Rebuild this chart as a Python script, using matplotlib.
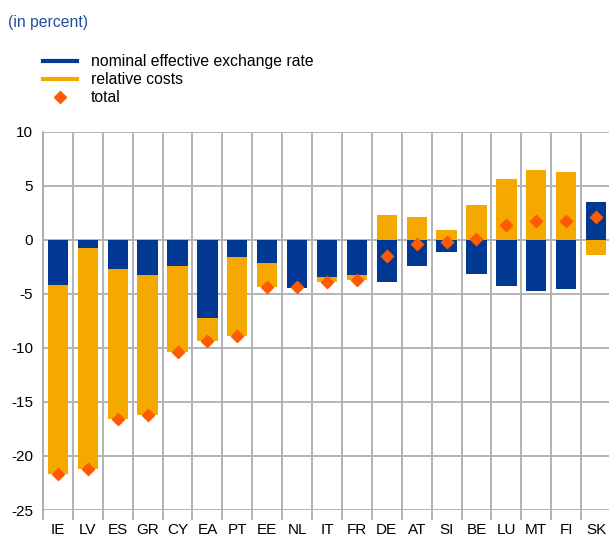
import numpy as np
import matplotlib
matplotlib.use('Agg')
import matplotlib.pyplot as plt
from matplotlib.lines import Line2D

plt.rcParams['font.family'] = ['Liberation Sans', 'DejaVu Sans']
plt.rcParams['axes.unicode_minus'] = False

# datos
paises = ['IE', 'LV', 'ES', 'GR', 'CY', 'EA', 'PT', 'EE', 'NL', 'IT',
          'FR', 'DE', 'AT', 'SI', 'BE', 'LU', 'MT', 'FI', 'SK']
neer = [-4.2, -0.7, -2.7, -3.2, -2.45, -7.25, -1.6, -2.15, -4.45, -3.45,
        -3.25, -3.9, -2.4, -1.1, -3.15, -4.25, -4.7, -4.55, 3.5]
costos = [-17.5, -20.5, -13.9, -13.0, -7.95, -2.1, -7.3, -2.2, 0.1, -0.45,
          -0.45, 2.3, 2.1, 0.9, 3.2, 5.65, 6.45, 6.3, -1.4]
total = [-21.7, -21.2, -16.6, -16.2, -10.35, -9.35, -8.9, -4.35, -4.35, -3.9,
         -3.7, -1.5, -0.35, -0.15, 0.1, 1.4, 1.75, 1.75, 2.1]

azul = '#003894'
naranja = '#f5a800'
rojo = '#ff5a00'

neer = np.array(neer)
costos = np.array(costos)
x = np.arange(len(paises))

fig = plt.figure(figsize=(6.09, 5.38), dpi=100)
ax = fig.add_axes([43/609, 28/538, 568/609, 378/538])

# el naranja se apila sobre el azul si tienen el mismo signo
base = np.where(np.sign(costos) == np.sign(neer), neer, 0)
ax.bar(x, neer, width=0.68, color=azul, zorder=2)
ax.bar(x, costos, width=0.68, bottom=base, color=naranja, zorder=2)
ax.scatter(x, total, marker='D', s=38, color=rojo, zorder=3)

ax.set_xlim(-0.5, len(paises) - 0.5)
ax.set_ylim(-25, 10)
ax.set_yticks(np.arange(-25, 11, 5))
ax.set_xticks(x)
ax.set_xticklabels(paises)
ax.set_xticks(np.arange(-0.5, len(paises), 1), minor=True)

# rejilla gris
ax.grid(axis='y', color='#b3b3b3', linewidth=1.4, zorder=0)
ax.grid(axis='x', which='minor', color='#a6a6a6', linewidth=1.2, zorder=0)
ax.tick_params(axis='x', which='major', length=0, labelsize=11, pad=9)
ax.tick_params(axis='x', which='minor', length=7, color='#a6a6a6', width=1.2)
ax.tick_params(axis='y', length=0, labelsize=11, pad=7)
for s in ['top', 'right', 'bottom']:
    ax.spines[s].set_visible(False)
ax.spines['left'].set_color('#a6a6a6')
ax.spines['left'].set_linewidth(1.2)

fig.text(8/609, 1 - 22/538, '(in percent)', color='#1f4ea0', fontsize=11.3,
         va='center', ha='left')

handles = [Line2D([], [], color=azul, lw=3),
           Line2D([], [], color=naranja, lw=3),
           Line2D([], [], color=rojo, marker='D', ls='none', markersize=6)]
labels = ['nominal effective exchange rate', 'relative costs', 'total']
fig.legend(handles, labels, loc='upper left',
           bbox_to_anchor=(43/609, 1 - 54/538), frameon=False, fontsize=11.3,
           borderpad=0, borderaxespad=0, handlelength=2.15, handletextpad=0.9,
           labelspacing=0.2)

plt.savefig('out.png', dpi=100)
